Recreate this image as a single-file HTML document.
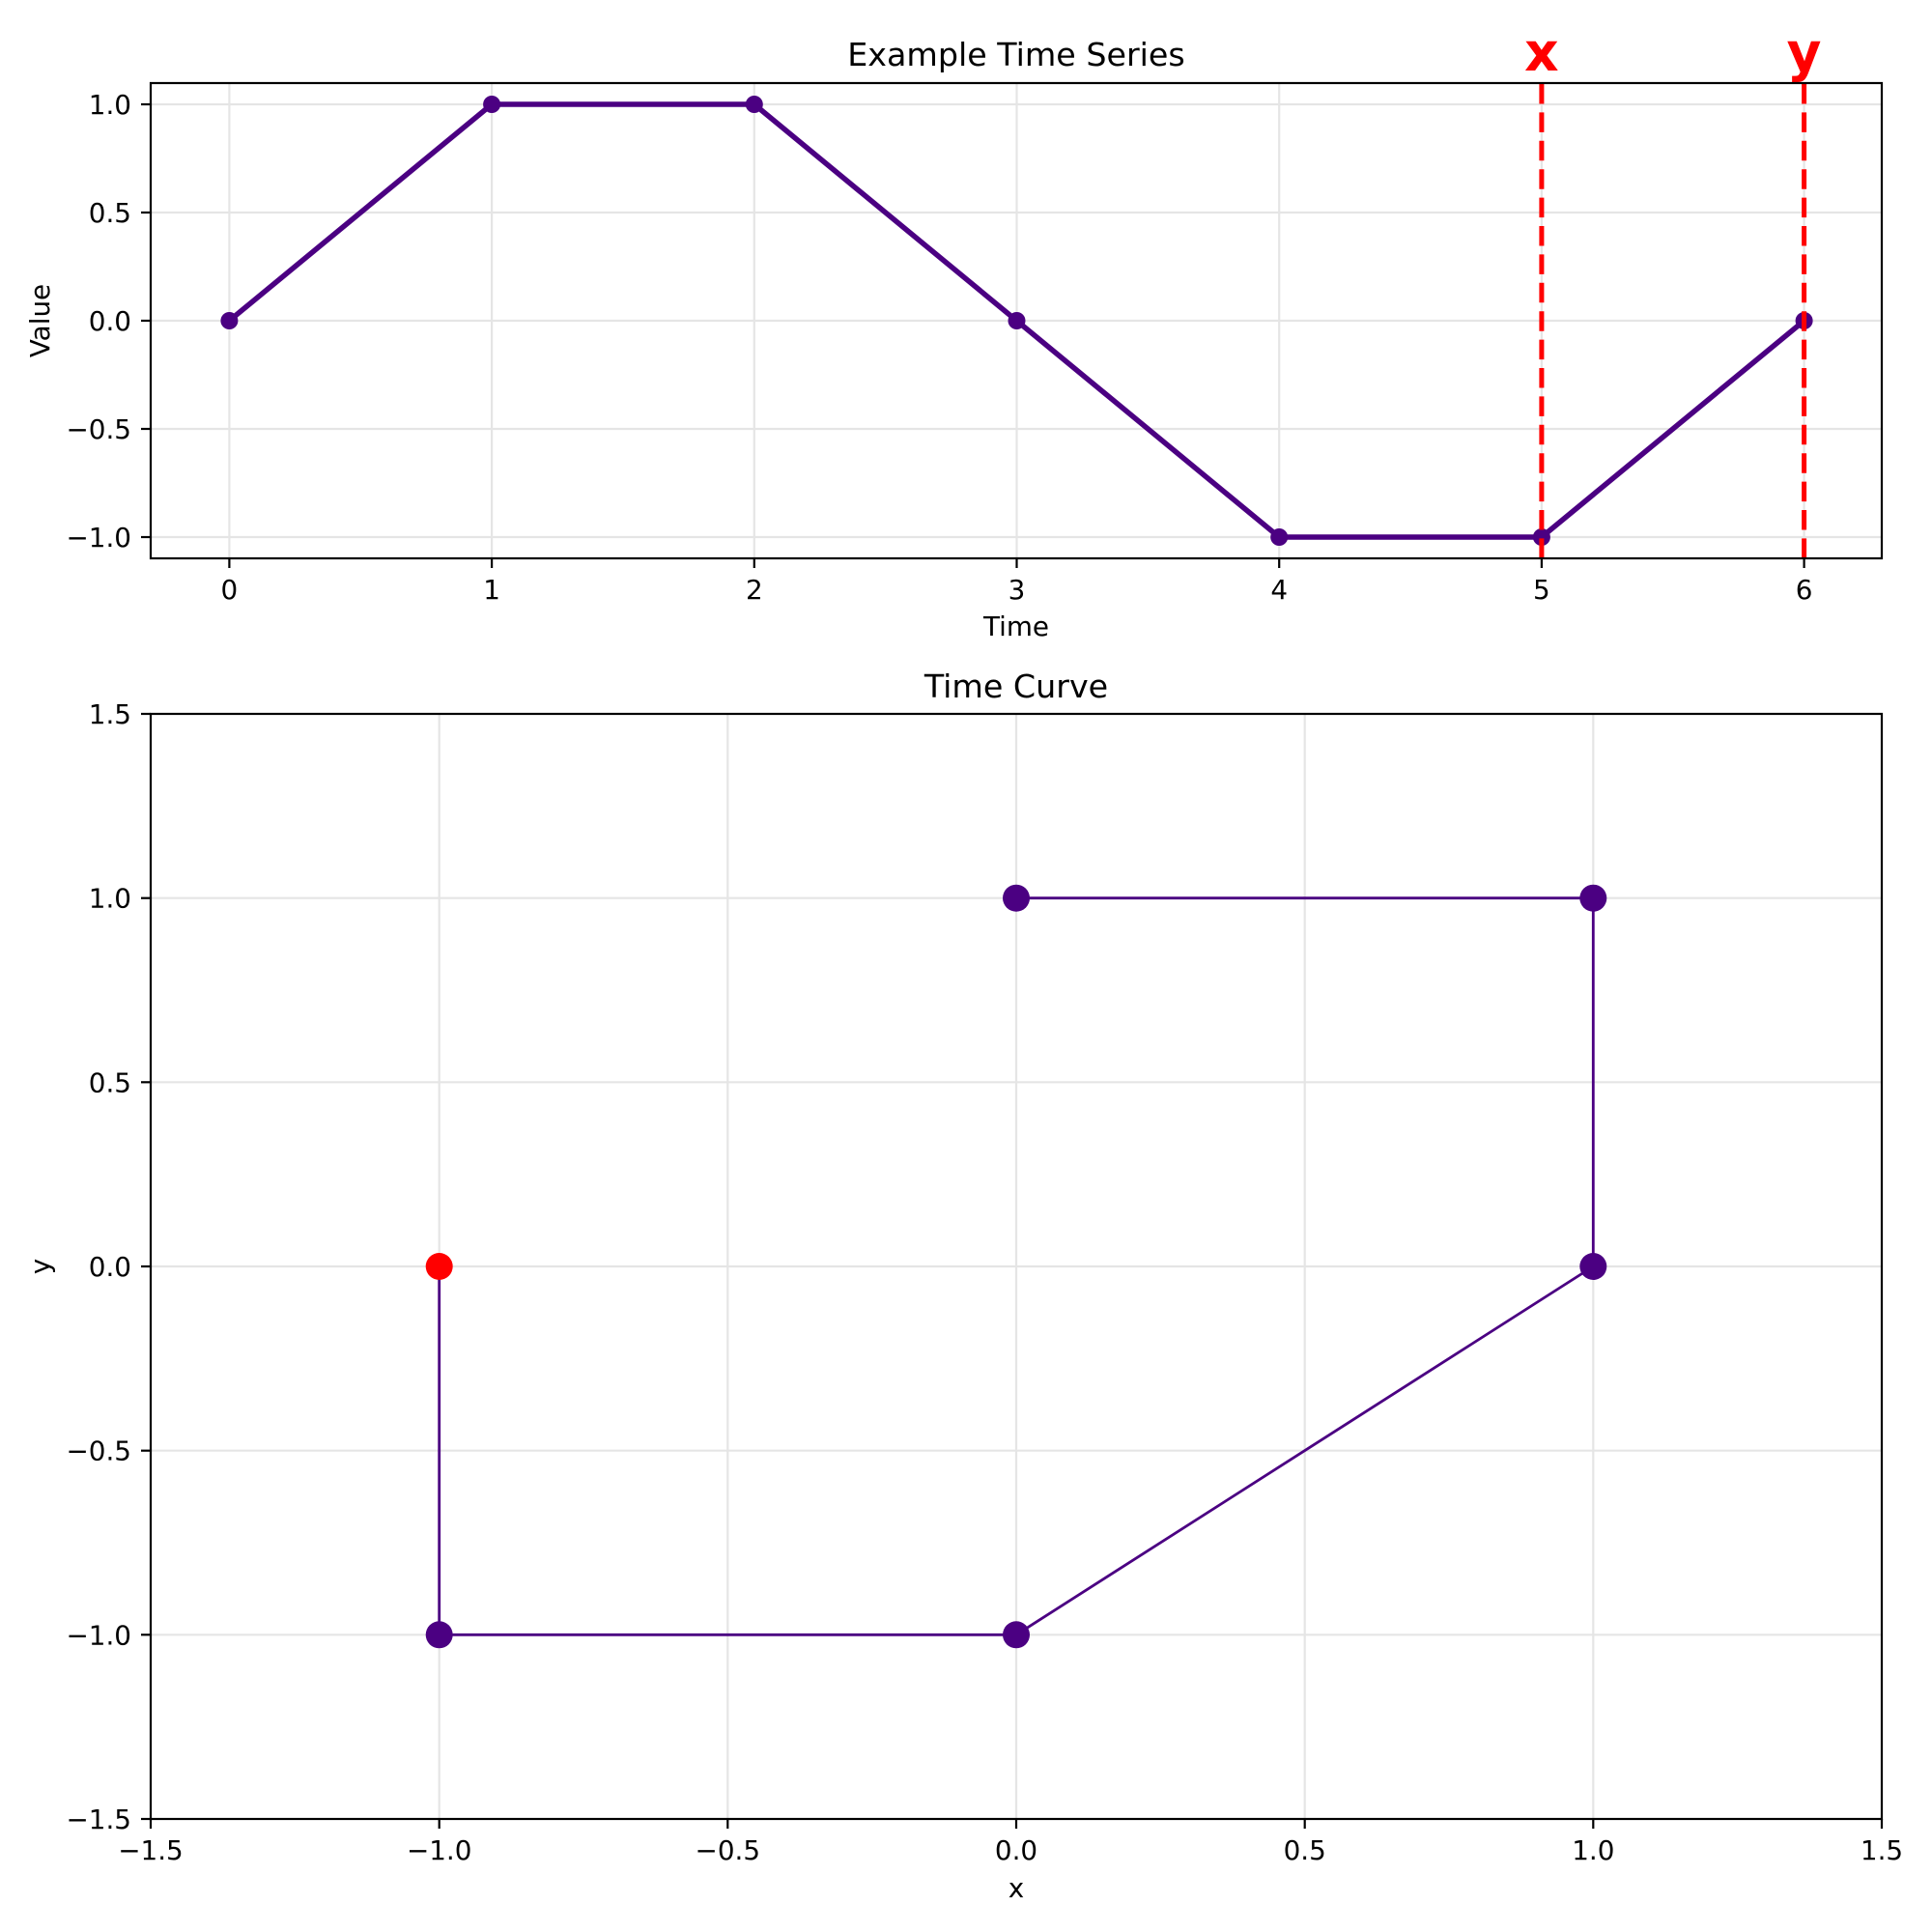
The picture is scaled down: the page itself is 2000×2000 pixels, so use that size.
<!DOCTYPE html>
<html><head><meta charset="utf-8"><style>html,body{margin:0;padding:0;background:#fff}svg{display:block}</style></head>
<body>
<svg width="2000" height="2000" viewBox="0 0 2000 2000" xmlns="http://www.w3.org/2000/svg" font-family="DejaVu Sans, Liberation Sans, sans-serif">
<rect width="2000" height="2000" fill="#fff"/>
<!-- TOP AXES -->
<g stroke="#e5e5e5" stroke-width="2.2">
<line x1="237.4" y1="86" x2="237.4" y2="578"/><line x1="509.1" y1="86" x2="509.1" y2="578"/><line x1="780.8" y1="86" x2="780.8" y2="578"/><line x1="1052.5" y1="86" x2="1052.5" y2="578"/><line x1="1324.2" y1="86" x2="1324.2" y2="578"/><line x1="1595.9" y1="86" x2="1595.9" y2="578"/><line x1="1867.6" y1="86" x2="1867.6" y2="578"/>
<line x1="156" y1="108" x2="1948" y2="108"/><line x1="156" y1="220" x2="1948" y2="220"/><line x1="156" y1="332" x2="1948" y2="332"/><line x1="156" y1="444" x2="1948" y2="444"/><line x1="156" y1="556" x2="1948" y2="556"/>
</g>
<polyline points="237.4,332 509.1,108 780.8,108 1052.5,332 1324.2,556 1595.9,556 1867.6,332" fill="none" stroke="#4b0082" stroke-width="5.5" stroke-linejoin="round"/>
<g fill="#4b0082"><circle cx="237.4" cy="332" r="9"/><circle cx="509.1" cy="108" r="9"/><circle cx="780.8" cy="108" r="9"/><circle cx="1052.5" cy="332" r="9"/><circle cx="1324.2" cy="556" r="9"/><circle cx="1595.9" cy="556" r="9"/><circle cx="1867.6" cy="332" r="9"/></g>
<g stroke="#ff0000" stroke-width="5" stroke-dasharray="20.5,8.9"><line x1="1595.9" y1="87" x2="1595.9" y2="578"/><line x1="1867.6" y1="87" x2="1867.6" y2="578"/></g>
<g font-size="55" font-weight="bold" fill="#ff0000" text-anchor="middle"><text x="1595.9" y="73">x</text><text x="1867.6" y="73">y</text></g>
<rect x="156" y="86" width="1792" height="492" fill="none" stroke="#000" stroke-width="2.2"/>
<g stroke="#000" stroke-width="2.2">
<line x1="237.4" y1="578" x2="237.4" y2="588"/><line x1="509.1" y1="578" x2="509.1" y2="588"/><line x1="780.8" y1="578" x2="780.8" y2="588"/><line x1="1052.5" y1="578" x2="1052.5" y2="588"/><line x1="1324.2" y1="578" x2="1324.2" y2="588"/><line x1="1595.9" y1="578" x2="1595.9" y2="588"/><line x1="1867.6" y1="578" x2="1867.6" y2="588"/>
<line x1="146" y1="108" x2="156" y2="108"/><line x1="146" y1="220" x2="156" y2="220"/><line x1="146" y1="332" x2="156" y2="332"/><line x1="146" y1="444" x2="156" y2="444"/><line x1="146" y1="556" x2="156" y2="556"/>
</g>
<g font-size="27.8" fill="#000" text-anchor="middle">
<text x="237.4" y="620">0</text><text x="509.1" y="620">1</text><text x="780.8" y="620">2</text><text x="1052.5" y="620">3</text><text x="1324.2" y="620">4</text><text x="1595.9" y="620">5</text><text x="1867.6" y="620">6</text>
<text x="1052" y="658">Time</text>
<text x="1052" y="68" font-size="33.3">Example Time Series</text>
<text transform="translate(51,332) rotate(-90)">Value</text>
</g>
<g font-size="27.8" fill="#000" text-anchor="end">
<text x="136" y="118">1.0</text><text x="136" y="230">0.5</text><text x="136" y="342">0.0</text><text x="136" y="454">−0.5</text><text x="136" y="566">−1.0</text>
</g>
<!-- BOTTOM AXES -->
<g stroke="#e5e5e5" stroke-width="2.2">
<line x1="454.7" y1="739" x2="454.7" y2="1883"/><line x1="753.3" y1="739" x2="753.3" y2="1883"/><line x1="1052" y1="739" x2="1052" y2="1883"/><line x1="1350.7" y1="739" x2="1350.7" y2="1883"/><line x1="1649.3" y1="739" x2="1649.3" y2="1883"/>
<line x1="156" y1="929.7" x2="1948" y2="929.7"/><line x1="156" y1="1120.3" x2="1948" y2="1120.3"/><line x1="156" y1="1311" x2="1948" y2="1311"/><line x1="156" y1="1501.7" x2="1948" y2="1501.7"/><line x1="156" y1="1692.3" x2="1948" y2="1692.3"/>
</g>
<polyline points="454.7,1311 454.7,1692.3 1052,1692.3 1649.3,1311 1649.3,929.7 1052,929.7" fill="none" stroke="#4b0082" stroke-width="2.8"/>
<g fill="#4b0082"><circle cx="454.7" cy="1692.3" r="14"/><circle cx="1052" cy="1692.3" r="14"/><circle cx="1649.3" cy="1311" r="14"/><circle cx="1649.3" cy="929.7" r="14"/><circle cx="1052" cy="929.7" r="14"/></g>
<circle cx="454.7" cy="1311" r="14" fill="#ff0000"/>
<rect x="156" y="739" width="1792" height="1144" fill="none" stroke="#000" stroke-width="2.2"/>
<g stroke="#000" stroke-width="2.2">
<line x1="156" y1="1883" x2="156" y2="1893"/><line x1="454.7" y1="1883" x2="454.7" y2="1893"/><line x1="753.3" y1="1883" x2="753.3" y2="1893"/><line x1="1052" y1="1883" x2="1052" y2="1893"/><line x1="1350.7" y1="1883" x2="1350.7" y2="1893"/><line x1="1649.3" y1="1883" x2="1649.3" y2="1893"/><line x1="1948" y1="1883" x2="1948" y2="1893"/>
<line x1="146" y1="739" x2="156" y2="739"/><line x1="146" y1="929.7" x2="156" y2="929.7"/><line x1="146" y1="1120.3" x2="156" y2="1120.3"/><line x1="146" y1="1311" x2="156" y2="1311"/><line x1="146" y1="1501.7" x2="156" y2="1501.7"/><line x1="146" y1="1692.3" x2="156" y2="1692.3"/><line x1="146" y1="1883" x2="156" y2="1883"/>
</g>
<g font-size="27.8" fill="#000" text-anchor="middle">
<text x="156" y="1925">−1.5</text><text x="454.7" y="1925">−1.0</text><text x="753.3" y="1925">−0.5</text><text x="1052" y="1925">0.0</text><text x="1350.7" y="1925">0.5</text><text x="1649.3" y="1925">1.0</text><text x="1948" y="1925">1.5</text>
<text x="1052" y="1964">x</text>
<text x="1052" y="722" font-size="33.3">Time Curve</text>
<text transform="translate(51,1311) rotate(-90)">y</text>
</g>
<g font-size="27.8" fill="#000" text-anchor="end">
<text x="136" y="749">1.5</text><text x="136" y="939.7">1.0</text><text x="136" y="1130.3">0.5</text><text x="136" y="1321">0.0</text><text x="136" y="1511.7">−0.5</text><text x="136" y="1702.3">−1.0</text><text x="136" y="1893">−1.5</text>
</g>
</svg>
</body></html>
